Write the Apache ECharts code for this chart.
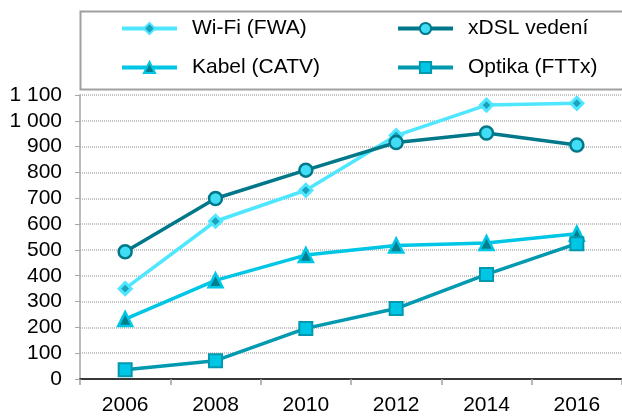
<!DOCTYPE html>
<html>
<head>
<meta charset="utf-8">
<script src="https://cdn.jsdelivr.net/npm/echarts@6/dist/echarts.min.js"></script>
<style>
    html, body {margin: 0; padding: 0; background: #fff;}
    #main {width: 622px; height: 416px;}
</style>
</head>
<body>
<div id="main"></div>
<script>
    var years = ['2006', '2008', '2010', '2012', '2014', '2016'];
    var wifi = [350, 611, 731, 943, 1061, 1068];
    var xdsl = [493, 699, 809, 916, 953, 906];
    var kabel = [232, 382, 480, 517, 527, 563];
    var optika = [36, 71, 196, 273, 405, 524];

    var font = 'Liberation Sans, Arial, sans-serif';

    (function (charts) {
        charts.setOption({
            animation: false,
            grid: {left: 80, right: -7, top: 95, bottom: 36},
            graphic: [{
                type: 'rect', left: 78, top: 9,
                shape: {width: 560, height: 78},
                style: {fill: 'none', stroke: '#a0a0a0', lineWidth: 2}
            }],
            legend: [
                {
                    orient: 'vertical', left: 120, top: 18, itemGap: 18, padding: 0,
                    itemWidth: 55, itemHeight: 14,
                    lineStyle: {width: 4},
                    textStyle: {fontFamily: font, fontSize: 21, color: '#000', padding: [0, 0, 0, 10]},
                    data: ['Wi-Fi (FWA)', 'Kabel (CATV)']
                },
                {
                    orient: 'vertical', left: 396, top: 18, itemGap: 18, padding: 0,
                    itemWidth: 55, itemHeight: 14,
                    lineStyle: {width: 4},
                    textStyle: {fontFamily: font, fontSize: 21, color: '#000', padding: [0, 0, 0, 10]},
                    data: ['xDSL vedení', 'Optika (FTTx)']
                }
            ],
            xAxis: {
                type: 'category', data: years, boundaryGap: true,
                axisLine: {lineStyle: {color: '#000', width: 1.5}},
                axisTick: {show: true, length: 6, lineStyle: {color: '#a0a0a0', width: 1.5}},
                axisLabel: {fontFamily: font, fontSize: 21, color: '#000', margin: 16}
            },
            yAxis: {
                type: 'value', min: 0, max: 1100, interval: 100,
                axisLine: {show: true, lineStyle: {color: '#a6a6a6', width: 1.5}},
                axisTick: {show: true, length: 5, lineStyle: {color: '#a6a6a6'}},
                splitLine: {show: true, lineStyle: {color: '#c4c4c4', width: 2, type: [1, 1]}},
                axisLabel: {
                    fontFamily: font, fontSize: 21, color: '#000', margin: 18,
                    formatter: function (v) {
                        return String(v).replace(/\B(?=(\d{3})+(?!\d))/g, ' ');
                    }
                }
            },
            series: [
                {
                    name: 'Wi-Fi (FWA)', type: 'line', data: wifi,
                    symbol: 'diamond', symbolSize: 12,
                    lineStyle: {color: '#4fe6ff', width: 3.5},
                    itemStyle: {color: '#1aa3bb', borderColor: '#4fe6ff', borderWidth: 3}
                },
                {
                    name: 'xDSL vedení', type: 'line', data: xdsl,
                    symbol: 'circle', symbolSize: 13,
                    lineStyle: {color: '#00788a', width: 3.5},
                    itemStyle: {color: '#40ddf5', borderColor: '#00788a', borderWidth: 2.5}
                },
                {
                    name: 'Kabel (CATV)', type: 'line', data: kabel,
                    symbol: 'triangle', symbolSize: 14,
                    lineStyle: {color: '#00c6e6', width: 3.5},
                    itemStyle: {color: '#00808f', borderColor: '#00c6e6', borderWidth: 2.5}
                },
                {
                    name: 'Optika (FTTx)', type: 'line', data: optika,
                    symbol: 'rect', symbolSize: 13,
                    lineStyle: {color: '#0099af', width: 3.5},
                    itemStyle: {color: '#00c6e6', borderColor: '#0099af', borderWidth: 2}
                }
            ]
        });
    })(echarts.init(document.getElementById('main')));
</script>
</body>
</html>
